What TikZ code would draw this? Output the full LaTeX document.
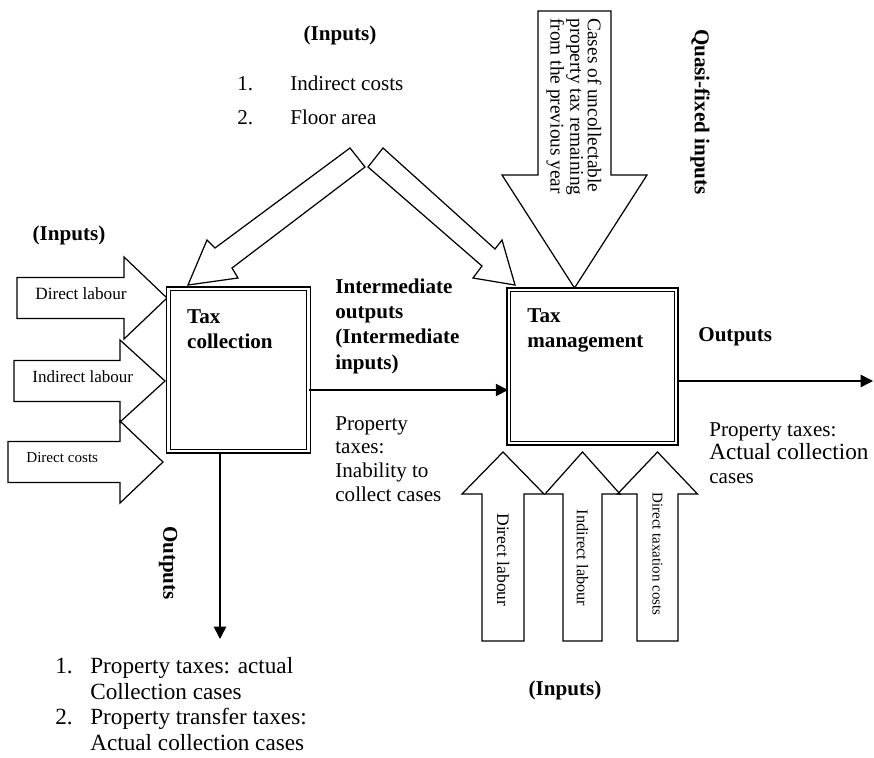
\documentclass[tikz,border=0pt]{standalone}
\usepackage{fontspec}
\setmainfont{Liberation Serif}
\usetikzlibrary{arrows.meta,positioning}
\newcommand{\Num}[2]{\makebox[#1][l]{#2}}

\begin{document}
\begin{tikzpicture}[x=0.02cm, y=-0.02cm,
    procbox/.style={draw, double, line width=0.8pt, double distance=1.3pt,
      minimum width=2.8cm, minimum height=3.25cm, inner sep=0pt},
    boxlabel/.style={font=\fontsize{12}{14.2}\selectfont\bfseries, align=left, inner sep=0pt},
    blockarrow/.style={draw, line width=0.7pt, line join=miter},
    flow/.style={-{Triangle[length=7pt,width=7pt]}, line width=0.85pt},
    headtxt/.style={font=\fontsize{12}{14.4}\selectfont\bfseries, align=left, inner sep=0pt},
    plaintxt/.style={font=\fontsize{12}{13.5}\selectfont, align=left, inner sep=0pt}]

  \useasboundingbox (0,0) rectangle (874,757);

  % Block arrows
  \foreach \x/\b/\t/\y/\f/\lab [count=\i] in {17/124/167/298/9.8/Direct labour,
      14/120/165/381/9.7/Indirect labour, 8/120/163/462/8.6/Direct costs}{
    \draw[blockarrow] (\x,\y-20.5) -- (\b,\y-20.5) -- (\b,\y-41) -- (\t,\y)
      -- (\b,\y+41) -- (\b,\y+20.5) -- (\x,\y+20.5) -- cycle;
    \node[anchor=west, inner sep=0pt, font=\fontsize{\f}{\f}\selectfont] (lin\i) at (\x+18,\y-4) {\lab};
  }
  \foreach \x/\w/\h/\y/\f/\lab [count=\i] in {503/21/41/560/10/Direct labour,
      582.5/19.5/37.5/558/9.3/Indirect labour, 657.5/20.5/40/554/8.5/Direct taxation costs}{
    \draw[blockarrow] (\x-\w,641) -- (\x-\w,494) -- (\x-\h,494) -- (\x,452)
      -- (\x+\h,494) -- (\x+\w,494) -- (\x+\w,641) -- cycle;
    \node[rotate=-90, inner sep=0pt, font=\fontsize{\f}{\f}\selectfont] (lup\i) at (\x,\y) {\lab};
  }
  \draw[blockarrow] (350,148) -- (215,248) -- (207,240) -- (188,285) -- (238,278) -- (232,268) -- (365,167) -- cycle;
  \draw[blockarrow] (383,148) -- (495,249) -- (502,240) -- (515,285) -- (473,278) -- (482,266) -- (368,167) -- cycle;
  \draw[blockarrow] (538,11) -- (611,11) -- (611,175) -- (647,175) -- (574.5,288) -- (502,175) -- (538,175) -- cycle;

  % Define nodes
  \node[procbox] (colbox) at (238.5,370) {};
  \node[procbox, minimum width=3.35cm, minimum height=3.07cm] (mgtbox) at (592.5,366.5) {};
  \node[boxlabel, below right=0.42cm and 0.38cm of colbox.north west] (collab) {Tax\\collection};
  \node[boxlabel, below right=0.38cm and 0.38cm of mgtbox.north west] (mgtlab) {Tax\\management};

  \node[headtxt] (intop) at (340,35) {(Inputs)};
  \node[plaintxt, font=\fontsize{12}{19.3}\selectfont, anchor=west] (inlist) at (237,100)
    {\Num{1.06cm}{1.}Indirect costs\\\Num{1.06cm}{2.}Floor area};
  \node[headtxt] (inleft) at (69,235) {(Inputs)};
  \node[headtxt, rotate=-90] (quasi) at (700,112) {Quasi-fixed inputs};
  \node[plaintxt, font=\fontsize{11}{10}\selectfont, rotate=-90] (cases) at (574,107)
    {Cases of uncollectable\\property tax remaining\\from the previous year};
  \node[headtxt, anchor=west] (inter) at (335,326)
    {Intermediate\\outputs\\(Intermediate\\inputs)};
  \node[plaintxt, anchor=west] (inab) at (335,459)
    {Property\\taxes:\\Inability to\\collect cases};
  \node[headtxt, anchor=west] (outhead) at (698,337) {Outputs};
  \node[plaintxt, anchor=west] (outtxt) at (709,453)
    {Property taxes:\\{\fontsize{13.2}{15}\selectfont Actual collection}\\cases};
  \node[headtxt, rotate=-90] (dnhead) at (168,563) {Outputs};
  \node[plaintxt, font=\fontsize{13.2}{14.6}\selectfont, anchor=west] (dnlist) at (55,704)
    {\Num{0.7cm}{1.}Property taxes: actual\\\hspace*{0.7cm}Collection cases\\
     \Num{0.7cm}{2.}Property transfer taxes:\\\hspace*{0.7cm}Actual collection cases};
  \node[headtxt] (inbot) at (565,690) {(Inputs)};

  % Connect the nodes
  \coordinate (midline) at (400,390);
  \coordinate (outend) at (873,381);
  \coordinate (dnend) at (220,639);
  \draw[flow] (colbox.east |- midline) -- (mgtbox.west |- midline);
  \draw[flow] (mgtbox.east |- outend) -- (outend);
  \draw[flow] (colbox.south -| dnend) -- (dnend);
\end{tikzpicture}
\end{document}
